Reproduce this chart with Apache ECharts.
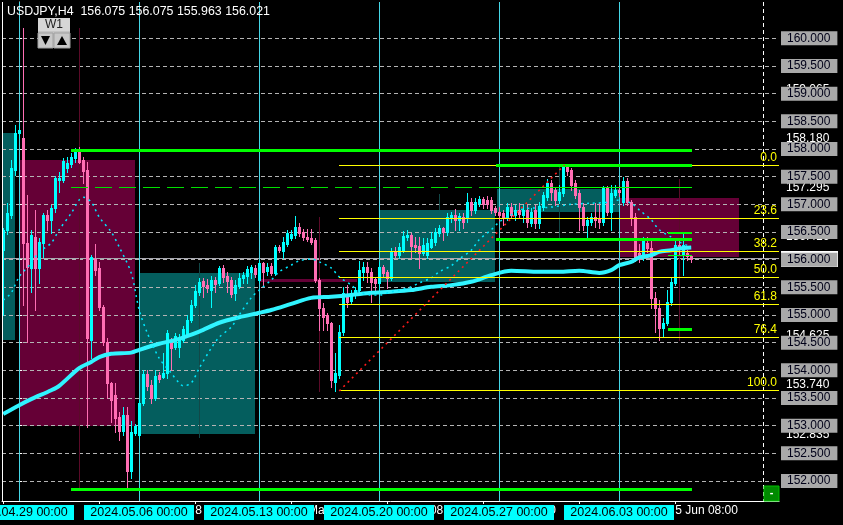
<!DOCTYPE html>
<html>
<head>
<meta charset="utf-8">
<title>USDJPY,H4</title>
<script src="https://cdn.jsdelivr.net/npm/echarts@6/dist/echarts.min.js"></script>
<style>
html,body{margin:0;padding:0;background:#000;}
#chart{width:843px;height:525px;}
</style>
</head>
<body>
<div id="chart"></div>
<script>
// ================= DATA =================
const headerText = 'USDJPY,H4  156.075 156.075 155.963 156.021';
const firstBarIndex = -4; // bar index of first candle; bar 0 = 2024.04.29 00:00
// [open, high, low, close]
const candles = [
[156.17,156.57,155.00,156.54],[156.54,157.02,156.46,156.84],[156.81,157.80,156.75,157.66],[157.62,158.43,157.53,158.29],
[158.29,158.45,158.20,158.35],[158.20,160.19,155.18,156.30],[156.30,157.17,154.51,155.87],[155.85,156.54,155.42,156.45],
[156.41,156.90,155.09,155.85],[155.85,156.39,155.58,156.32],[156.30,156.84,156.05,156.81],[156.81,156.90,156.54,156.72],
[156.72,156.99,156.48,156.93],[156.93,157.51,156.86,157.48],[157.44,157.58,157.23,157.48],[157.44,157.84,157.41,157.78],
[157.66,157.86,157.58,157.75],[157.73,157.93,157.68,157.86],[157.84,158.02,157.77,157.95],[157.98,158.04,157.75,157.77],
[157.80,157.86,157.39,157.60],[157.62,157.77,152.97,154.58],[154.55,156.09,154.22,156.05],[156.01,156.28,155.72,155.81],
[155.85,155.96,155.09,155.14],[155.14,155.18,154.46,154.51],[154.51,154.58,153.50,153.77],[153.77,153.79,153.07,153.47],
[153.56,153.77,152.89,153.14],[153.16,153.25,152.75,152.91],[152.91,153.34,152.83,153.19],[153.19,153.34,151.88,152.18],
[152.18,153.09,152.06,152.89],[152.87,153.03,152.83,153.00],[152.83,153.47,152.80,153.41],[153.41,154.00,153.37,153.93],
[153.93,154.00,153.65,153.72],[153.74,153.83,153.41,153.50],[153.50,154.00,153.47,153.90],[153.92,153.97,153.79,153.85],
[153.88,154.31,153.86,153.95],[153.95,154.73,153.86,154.68],[154.50,154.58,154.00,154.41],[154.42,154.68,154.39,154.62],
[154.42,154.66,154.24,154.58],[154.55,154.80,154.51,154.75],[154.64,155.00,154.60,154.91],[154.91,155.27,154.87,155.18],
[155.18,155.54,155.14,155.43],[155.42,155.67,155.36,155.60],[155.62,155.67,155.33,155.53],[155.54,155.65,155.42,155.49],
[155.45,155.71,155.14,155.63],[155.63,155.69,155.42,155.56],[155.58,155.89,155.54,155.85],[155.85,155.91,155.60,155.69],
[155.70,155.78,155.42,155.62],[155.63,155.69,155.33,155.38],[155.40,155.63,155.27,155.54],[155.53,155.76,155.49,155.67],
[155.67,155.78,155.58,155.72],[155.70,155.89,155.58,155.83],[155.78,155.91,155.67,155.87],[155.85,155.91,155.69,155.74],
[155.63,156.00,155.60,155.94],[155.94,155.96,155.51,155.78],[155.80,155.94,155.72,155.87],[155.89,155.94,155.72,155.76],
[155.76,156.26,155.72,156.23],[156.23,156.26,156.14,156.17],[156.16,156.41,156.03,156.32],[156.28,156.54,156.25,156.48],
[156.39,156.54,156.36,156.46],[156.45,156.79,156.39,156.59],[156.59,156.66,156.43,156.48],[156.50,156.55,156.36,156.41],
[156.41,156.55,156.34,156.37],[156.39,156.55,156.28,156.32],[156.36,156.39,155.60,155.63],[155.63,155.67,154.73,155.12],
[155.12,155.21,154.73,154.96],[155.00,155.04,154.73,154.86],[154.86,154.88,153.70,153.83],[153.79,154.31,153.63,153.95],
[153.92,154.82,153.86,154.69],[154.69,155.51,154.64,155.40],[155.36,155.54,155.14,155.24],[155.25,155.45,155.20,155.40],
[155.36,155.51,155.31,155.45],[155.45,155.98,155.40,155.81],[155.78,155.96,155.63,155.87],[155.87,155.96,155.60,155.78],
[155.78,155.85,155.23,155.60],[155.65,155.69,155.45,155.58],[155.58,155.96,155.45,155.87],[155.87,155.91,155.69,155.76],
[155.78,155.81,155.49,155.67],[155.67,156.21,155.63,156.14],[156.16,156.23,156.05,156.09],[156.09,156.30,156.03,156.23],
[156.17,156.52,156.14,156.43],[156.41,156.54,156.36,156.45],[156.45,156.48,156.03,156.25],[156.27,156.41,156.14,156.23],
[156.25,156.41,155.85,156.12],[156.12,156.39,156.09,156.27],[156.09,156.39,156.03,156.30],[156.23,156.50,156.21,156.37],
[156.32,156.57,156.27,156.50],[156.48,156.62,156.43,156.57],[156.57,156.59,156.36,156.50],[156.50,156.84,156.45,156.77],
[156.75,156.86,156.68,156.81],[156.81,156.92,156.54,156.72],[156.72,156.84,156.54,156.79],[156.77,156.84,156.57,156.68],
[156.75,157.21,156.68,157.04],[157.04,157.11,156.81,156.90],[156.90,157.11,156.84,157.04],[157.02,157.15,156.97,157.09],
[157.09,157.13,156.93,157.00],[157.08,157.15,156.93,157.00],[157.08,157.13,156.84,156.90],[156.93,156.97,156.81,156.86],
[156.86,156.95,156.72,156.81],[156.84,156.90,156.63,156.75],[156.77,157.02,156.72,156.95],[156.95,157.02,156.75,156.81],
[156.81,156.99,156.72,156.90],[156.90,157.02,156.75,156.83],[156.81,156.99,156.68,156.90],[156.90,156.99,156.59,156.68],
[156.66,156.93,156.61,156.86],[156.90,156.99,156.57,156.66],[156.66,157.04,156.57,156.97],[156.95,157.22,156.90,157.17],
[157.13,157.46,157.08,157.39],[157.39,157.44,157.08,157.22],[157.26,157.31,156.99,157.08],[157.08,157.35,157.02,157.22],
[157.20,157.71,157.15,157.67],[157.67,157.71,157.53,157.60],[157.62,157.66,157.26,157.35],[157.39,157.44,157.11,157.17],
[157.20,157.26,156.54,156.95],[156.95,157.02,156.54,156.62],[156.62,156.77,156.41,156.72],[156.68,156.84,156.62,156.77],
[156.77,157.02,156.59,156.72],[156.75,157.02,156.57,156.68],[156.68,157.33,156.62,157.30],[157.30,157.33,156.81,156.86],
[156.86,157.35,156.54,157.20],[157.17,157.35,157.13,157.26],[157.26,157.33,157.15,157.22],[157.04,157.50,156.99,157.42],
[157.42,157.48,156.99,157.04],[157.04,157.08,156.62,156.77],[156.77,156.84,155.98,156.05],[156.12,156.28,155.95,156.02],
[156.05,156.41,156.00,156.36],[156.30,156.41,156.14,156.21],[156.21,156.36,155.13,155.31],[155.31,155.42,154.70,155.13],
[155.13,155.27,154.55,154.77],[154.77,154.95,154.60,154.86],[154.86,155.45,154.82,155.24],[155.24,155.67,155.18,155.60],
[155.58,156.34,155.54,156.27],[156.27,156.34,156.08,156.19],[156.09,156.50,155.72,156.27],[156.12,156.17,156.00,156.07],
[156.075,156.075,155.963,156.021]
];

const yTickValues = [152.0,152.5,153.0,153.5,154.0,154.5,155.0,155.5,156.0,156.5,157.0,157.5,158.0,158.5,159.0,159.5,160.0];
const xTickBars = [-4, 20, 44, 68, 92, 116, 140, 164];
const xTickLabels = ['26 Apr 08:00','2 May 08:00','8 May 08:00','14 May 08:00','20 May 08:00','24 May 08:00','30 May 08:00','5 Jun 08:00'];
const weekBars = [0, 30, 60, 90, 120, 150];
const weekLabels = ['2024.04.29 00:00','2024.05.06 00:00','2024.05.13 00:00','2024.05.20 00:00','2024.05.27 00:00','2024.06.03 00:00'];

// slow moving average (thick)
const maBars   = [-4,0,3,8,10,15,18,20,23,28,30,35,40,45,50,55,60,63,68,73,78,83,88,93,98,103,108,113,118,123,130,135,140,145,148,150,153,155,158,160,163,165,168];
const maValues = [153.21,153.37,153.48,153.64,153.72,154.04,154.15,154.24,154.30,154.32,154.37,154.48,154.57,154.70,154.86,154.96,155.04,155.09,155.20,155.31,155.33,155.36,155.40,155.42,155.45,155.51,155.54,155.60,155.72,155.80,155.78,155.78,155.80,155.76,155.81,155.90,155.96,156.04,156.08,156.14,156.17,156.20,156.22];
// fast moving average (dotted)
const signalBars   = [-4,-2,0,3,5,8,10,13,15,16,18,20,23,25,28,30,32,35,38,40,41,43,45,48,50,53,55,58,60,63,65,68,70,73,75,78,80,83,85,88,90,93,95,98,100,103,105,108,110,113,115,118,120,123,125,128,133,138,143,148,150,153,155,158,160,163,165,168];
const signalValues = [155.27,155.40,155.69,155.94,156.14,156.30,156.54,156.84,157.08,157.13,157.04,156.77,156.50,156.23,155.76,155.09,154.68,154.22,153.95,153.77,153.72,153.77,154.04,154.40,154.60,154.78,155.00,155.31,155.45,155.63,155.78,155.90,155.98,156.01,155.96,155.85,155.69,155.54,155.42,155.36,155.36,155.42,155.45,155.51,155.58,155.67,155.78,155.89,156.01,156.17,156.36,156.54,156.68,156.81,156.90,156.93,156.95,157.00,157.02,157.04,157.08,157.02,156.90,156.72,156.54,156.41,156.32,156.23];

// Fibonacci retracement
const fibLevels = [0.0, 23.6, 38.2, 50.0, 61.8, 76.4, 100.0];
const fibPrices = [157.710, 156.746, 156.150, 155.669, 155.187, 154.590, 153.627];
const fibStartBar = 80;
const fibTrendBars = [80, 136.3];
const fibTrendPrices = [153.627, 157.710];

// zones: left bar, right bar, top price, bottom price, kind (0 = demand/teal, 1 = supply/maroon)
const zoneLeft   = [-4.3, 0.2, 29.9, 89.9, 119.4, 150.2, 60.2];
const zoneRight  = [-1.1, 28.9, 58.9, 118.9, 149.9, 179.9, 84.4];
const zoneTop    = [158.29, 157.80, 155.76, 156.90, 157.27, 157.12, 155.65];
const zoneBottom = [154.55, 153.00, 152.85, 155.60, 156.87, 156.04, 155.60];
const zoneKind   = [0, 1, 0, 0, 0, 1, 1];

// horizontal levels: from bar, to bar, price, style index
const levelFrom  = [13, 13, 13, 119.2, 119.2, 119.2, 162.1, 162.1, 162.1];
const levelTo    = [168.2, 168.2, 119.2, 168.2, 168.2, 168.2, 168.2, 168.2, 168.2];
const levelPrice = [157.98, 151.85, 157.295, 157.295, 157.71, 156.37, 156.49, 156.08, 154.73];
const levelStyle = [0, 0, 2, 1, 0, 0, 3, 1, 0];

// vertical markers: bar, high, low, kind (0 maroon, 1 dark teal)
const markerBars = [15, 75, 165, 45, 105, 135];
const markerHigh = [160.19, 156.77, 157.46, 155.94, 157.18, 157.68];
const markerLow  = [151.88, 153.61, 154.53, 152.78, 156.90, 156.39];
const markerKind = [0, 0, 0, 1, 1, 1];

const priceTags = [159.065, 158.180, 157.295, 156.416, 154.625, 153.740, 152.835];
const bidPrice = 156.021;
const shiftBar = 186;

// ================= LAYOUT / STYLE =================
const axisMin = 151.639, axisMax = 160.656;
const barMin = -4.3, barMax = 189.95;
const FONT = '"Liberation Sans", Arial, sans-serif';
const bullColor = '#00ffff', bearColor = '#ff6eb4';
const zoneColors = ['#045e5e', '#650036'];
const markerColors = ['#5a0a28', '#124848'];
const levelStyles = [
  {w: 3, c: '#00ff00', dash: null},
  {w: 1, c: '#00ff00', dash: null},
  {w: 1, c: '#00e000', dash: [17, 7]},
  {w: 2, c: '#00ff00', dash: null}
];

const candleData = candles.map((c, k) => [firstBarIndex + k, c[0], c[1], c[2], c[3]]);

function crisp(v, w) { return (w % 2) ? Math.floor(v) + 0.5 : Math.round(v); }

const chart = echarts.init(document.getElementById('chart'), null, {renderer: 'canvas'});

const option = {
  backgroundColor: '#000000',
  animation: false,
  grid: {left: 2, right: 64, top: 2, bottom: 24, containLabel: false},
  xAxis: {
    type: 'value', min: barMin, max: barMax, z: 1,
    axisLine: {show: true, lineStyle: {color: '#ffffff', width: 1}},
    axisTick: {show: true, customValues: xTickBars, length: 3, lineStyle: {color: '#ffffff'}},
    axisLabel: {
      show: true, customValues: xTickBars, align: 'left', margin: 4,
      color: '#ffffff', fontSize: 12, fontFamily: FONT,
      formatter: v => { const k = xTickBars.indexOf(Math.round(v)); return k >= 0 ? xTickLabels[k] : ''; }
    },
    splitLine: {show: false}
  },
  yAxis: {
    type: 'value', position: 'right', min: axisMin, max: axisMax, z: 1,
    axisLine: {show: true, lineStyle: {color: '#ffffff', width: 1}},
    axisTick: {show: true, customValues: yTickValues, length: 3, lineStyle: {color: '#ffffff'}},
    axisLabel: {
      show: true, customValues: yTickValues, margin: 2,
      color: '#000018', fontSize: 12, fontFamily: FONT, lineHeight: 12,
      backgroundColor: '#a9a9a9', padding: [1, 7, 1, 6],
      formatter: v => v.toFixed(3)
    },
    splitLine: {show: true, lineStyle: {color: '#b4b4b4', width: 1, type: [4, 3]}}
  },
  series: [
    // background zones
    {
      type: 'custom', name: 'zones', z: 0, silent: true,
      data: zoneLeft.map((l, k) => [l, zoneRight[k], zoneTop[k], zoneBottom[k], zoneKind[k]]),
      encode: {x: [0, 1], y: [2, 3]},
      renderItem: (params, api) => {
        const cs = params.coordSys;
        const p1 = api.coord([api.value(0), api.value(2)]);
        const p2 = api.coord([api.value(1), api.value(3)]);
        const x1 = Math.max(cs.x, Math.round(p1[0])), x2 = Math.min(cs.x + cs.width, Math.round(p2[0]));
        const y1 = Math.round(p1[1]), y2 = Math.round(p2[1]);
        return {type: 'rect', shape: {x: x1, y: y1, width: x2 - x1, height: Math.max(1, y2 - y1)},
                style: {fill: zoneColors[api.value(4)]}};
      }
    },
    // white price tags on the right scale (beneath the scale labels)
    {
      type: 'custom', name: 'tags', z: 0, silent: true, clip: false,
      data: priceTags.map(p => [barMax, p]),
      renderItem: (params, api) => {
        const cs = params.coordSys;
        const y = api.coord([barMax, api.value(1)])[1];
        return {type: 'text', style: {text: api.value(1).toFixed(3), x: cs.x + cs.width + 7, y: Math.round(y),
                fill: '#ffffff', font: '12px ' + FONT, align: 'left', verticalAlign: 'middle'}};
      }
    },
    // bid tag
    {
      type: 'custom', name: 'bidTag', z: 0, silent: true, clip: false,
      data: [[barMax, bidPrice]],
      renderItem: (params, api) => {
        const cs = params.coordSys;
        const y = Math.round(api.coord([barMax, api.value(1)])[1]);
        return {type: 'group', children: [
          {type: 'rect', shape: {x: cs.x + cs.width + 2, y: y - 8, width: 57, height: 16}, style: {fill: '#ffffff'}},
          {type: 'text', style: {text: api.value(1).toFixed(3), x: cs.x + cs.width + 8, y: y,
            fill: '#000000', font: '12px ' + FONT, align: 'left', verticalAlign: 'middle'}}
        ]};
      }
    },
    // bid line
    {
      type: 'custom', name: 'bidLine', z: 2, silent: true,
      data: [[barMin, bidPrice]],
      renderItem: (params, api) => {
        const cs = params.coordSys;
        const y = crisp(api.coord([barMin, api.value(1)])[1], 1);
        return {type: 'line', shape: {x1: cs.x, y1: y, x2: cs.x + cs.width, y2: y},
                style: {stroke: '#a8a8b0', lineWidth: 1}};
      }
    },
    // week separators
    {
      type: 'custom', name: 'separators', z: 2, silent: true,
      data: weekBars.map(b => [b, axisMin]),
      renderItem: (params, api) => {
        const cs = params.coordSys;
        const x = crisp(api.coord([api.value(0), axisMin])[0], 1);
        return {type: 'line', shape: {x1: x, y1: cs.y, x2: x, y2: cs.y + cs.height},
                style: {stroke: '#46d6e6', lineWidth: 1}};
      }
    },
    // shift marker
    {
      type: 'custom', name: 'shift', z: 2, silent: true,
      data: [[shiftBar, axisMin]],
      renderItem: (params, api) => {
        const cs = params.coordSys;
        const x = crisp(api.coord([api.value(0), axisMin])[0], 1);
        return {type: 'line', shape: {x1: x, y1: cs.y, x2: x, y2: cs.y + cs.height},
                style: {stroke: '#ffffff', lineWidth: 1, lineDash: [4, 3]}};
      }
    },
    // vertical markers
    {
      type: 'custom', name: 'markers', z: 2, silent: true,
      data: markerBars.map((b, k) => [b, markerHigh[k], markerLow[k], markerKind[k]]),
      renderItem: (params, api) => {
        const p1 = api.coord([api.value(0), api.value(1)]);
        const p2 = api.coord([api.value(0), api.value(2)]);
        const x = crisp(p1[0], 1);
        return {type: 'line', shape: {x1: x, y1: Math.round(p1[1]), x2: x, y2: Math.round(p2[1])},
                style: {stroke: markerColors[api.value(3)], lineWidth: 1}};
      }
    },
    // candles
    {
      type: 'custom', name: 'USDJPY', z: 3, silent: true,
      data: candleData,
      encode: {x: 0, y: [1, 2, 3, 4]},
      renderItem: (params, api) => {
        const bar = api.value(0);
        const o = api.value(1), h = api.value(2), l = api.value(3), c = api.value(4);
        const x = Math.floor(api.coord([bar, o])[0]);
        const yo = api.coord([bar, o])[1], yc = api.coord([bar, c])[1];
        const yh = Math.round(api.coord([bar, h])[1]), yl = Math.round(api.coord([bar, l])[1]);
        const top = Math.round(Math.min(yo, yc)), bottom = Math.round(Math.max(yo, yc));
        const col = c >= o ? bullColor : bearColor;
        return {type: 'group', children: [
          {type: 'rect', shape: {x: x, y: yh, width: 1, height: Math.max(1, yl - yh + 1)}, style: {fill: col}},
          {type: 'rect', shape: {x: x - 1, y: top, width: 3, height: Math.max(1, bottom - top + 1)}, style: {fill: col}}
        ]};
      }
    },
    // slow MA
    {
      type: 'line', name: 'MA slow', z: 4, silent: true, symbol: 'none', smooth: 0.3,
      data: maBars.map((b, k) => [b, maValues[k]]),
      lineStyle: {color: '#30f4ff', width: 4}
    },
    // fast MA dotted
    {
      type: 'line', name: 'MA fast', z: 4, silent: true, symbol: 'none', smooth: 0.3,
      data: signalBars.map((b, k) => [b, signalValues[k]]),
      lineStyle: {color: '#00e8ff', width: 1.5, type: [2, 4]}
    },
    // fib trend line
    {
      type: 'line', name: 'fib trend', z: 5, silent: true, symbol: 'none',
      data: fibTrendBars.map((b, k) => [b, fibTrendPrices[k]]),
      lineStyle: {color: '#ff1a1a', width: 1.6, type: [2, 4]}
    },
    // fib levels with labels
    {
      type: 'custom', name: 'fib', z: 5, silent: true,
      data: fibLevels.map((lv, k) => [fibStartBar, fibPrices[k], k]),
      renderItem: (params, api) => {
        const cs = params.coordSys;
        const p = api.coord([api.value(0), api.value(1)]);
        const y = crisp(p[1], 1);
        const right = cs.x + cs.width;
        return {type: 'group', children: [
          {type: 'line', shape: {x1: Math.round(p[0]), y1: y, x2: right, y2: y}, style: {stroke: '#ffff00', lineWidth: 1}},
          {type: 'text', style: {text: fibLevels[api.value(2)].toFixed(1), x: right - 2, y: y - 2,
            fill: '#ffff00', font: '12px ' + FONT, align: 'right', verticalAlign: 'bottom'}}
        ]};
      }
    },
    // green levels
    {
      type: 'custom', name: 'levels', z: 5, silent: true,
      data: levelFrom.map((f, k) => [f, levelTo[k], levelPrice[k], levelStyle[k]]),
      renderItem: (params, api) => {
        const st = levelStyles[api.value(3)];
        const p1 = api.coord([api.value(0), api.value(2)]);
        const p2 = api.coord([api.value(1), api.value(2)]);
        const y = crisp(p1[1], st.w);
        return {type: 'line', shape: {x1: Math.round(p1[0]), y1: y, x2: Math.round(p2[0]), y2: y},
                style: {stroke: st.c, lineWidth: st.w, lineDash: st.dash}};
      }
    },
    // week labels on time scale
    {
      type: 'custom', name: 'weekLabels', z: 10, silent: true, clip: false,
      data: weekBars.map((b, k) => [b, axisMin, k]),
      renderItem: (params, api) => {
        const cs = params.coordSys;
        const x = api.coord([api.value(0), axisMin])[0];
        const yTop = cs.y + cs.height + 4;
        return {type: 'group', children: [
          {type: 'rect', shape: {x: Math.round(x) - 55, y: yTop, width: 110, height: 15}, style: {fill: '#00ffff'}},
          {type: 'text', style: {text: weekLabels[api.value(2)], x: Math.round(x), y: yTop + 8,
            fill: '#000000', font: '12.5px ' + FONT, align: 'center', verticalAlign: 'middle'}}
        ]};
      }
    }
  ],
  graphic: [
    {type: 'line', z: 6, silent: true, shape: {x1: 2.5, y1: 2, x2: 2.5, y2: 501}, style: {stroke: '#ffffff', lineWidth: 1}},
    {type: 'text', z: 10, silent: true, left: 7, top: 6,
     style: {text: headerText, fill: '#ffffff', font: '12.4px ' + FONT}},
    {type: 'rect', z: 10, silent: true, shape: {x: 38, y: 18, width: 32, height: 30}, style: {fill: '#c4c4c4'}},
    {type: 'rect', z: 10, silent: true, shape: {x: 38, y: 18, width: 32, height: 13}, style: {fill: '#d6d6d6'}},
    {type: 'text', z: 11, silent: true, style: {text: 'W1', x: 54, y: 25, fill: '#202020', font: '12px ' + FONT, align: 'center', verticalAlign: 'middle'}},
    {type: 'rect', z: 11, silent: true, shape: {x: 38, y: 33, width: 15, height: 15}, style: {fill: '#c8c8c8', stroke: '#a0a0a0', lineWidth: 1}},
    {type: 'rect', z: 11, silent: true, shape: {x: 54, y: 33, width: 16, height: 15}, style: {fill: '#c8c8c8', stroke: '#a0a0a0', lineWidth: 1}},
    {type: 'polygon', z: 12, silent: true, shape: {points: [[41, 36], [50, 36], [45.5, 45]]}, style: {fill: '#000000'}},
    {type: 'polygon', z: 12, silent: true, shape: {points: [[57, 45], [67, 45], [62, 36]]}, style: {fill: '#000000'}},
    {type: 'rect', z: 10, silent: true, shape: {x: 764, y: 486, width: 15, height: 15}, style: {fill: '#008a00', stroke: '#00c000', lineWidth: 1}},
    {type: 'text', z: 11, silent: true, style: {text: '-', x: 771.5, y: 493, fill: '#ffffff', font: 'bold 11px ' + FONT, align: 'center', verticalAlign: 'middle'}}
  ]
};
chart.setOption(option);
</script>
</body>
</html>
